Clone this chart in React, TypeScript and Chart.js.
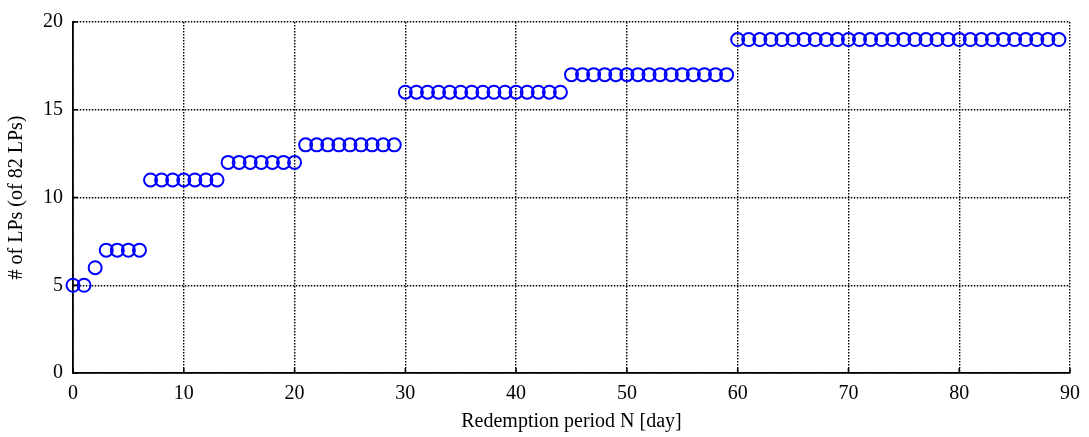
import { useEffect, useRef } from 'react';
import { Chart, registerables } from 'chart.js';

Chart.register(...registerables);

const periods = [
  0, 1, 2, 3, 4, 5, 6, 7, 8, 9,
  10, 11, 12, 13, 14, 15, 16, 17, 18, 19,
  20, 21, 22, 23, 24, 25, 26, 27, 28, 29,
  30, 31, 32, 33, 34, 35, 36, 37, 38, 39,
  40, 41, 42, 43, 44, 45, 46, 47, 48, 49,
  50, 51, 52, 53, 54, 55, 56, 57, 58, 59,
  60, 61, 62, 63, 64, 65, 66, 67, 68, 69,
  70, 71, 72, 73, 74, 75, 76, 77, 78, 79,
  80, 81, 82, 83, 84, 85, 86, 87, 88, 89,
];

const lpCounts = [
  5, 5, 6, 7, 7, 7, 7, 11, 11, 11,
  11, 11, 11, 11, 12, 12, 12, 12, 12, 12,
  12, 13, 13, 13, 13, 13, 13, 13, 13, 13,
  16, 16, 16, 16, 16, 16, 16, 16, 16, 16,
  16, 16, 16, 16, 16, 17, 17, 17, 17, 17,
  17, 17, 17, 17, 17, 17, 17, 17, 17, 17,
  19, 19, 19, 19, 19, 19, 19, 19, 19, 19,
  19, 19, 19, 19, 19, 19, 19, 19, 19, 19,
  19, 19, 19, 19, 19, 19, 19, 19, 19, 19,
];

const xTicks = [0, 10, 20, 30, 40, 50, 60, 70, 80, 90];
const yTicks = [0, 5, 10, 15, 20];

const xTitle = 'Redemption period N [day]';
const yTitle = '# of LPs (of 82 LPs)';

const FONT = '"Liberation Serif", "Times New Roman", serif';

const inwardTicks = {
  id: 'inwardTicks',
  afterDraw(chart: any) {
    const { ctx, chartArea, scales } = chart;
    const len = 5;
    ctx.save();
    ctx.strokeStyle = '#000';
    ctx.lineWidth = 1.5;
    ctx.setLineDash([]);
    ctx.beginPath();
    xTicks.forEach((v) => {
      const px = scales.x.getPixelForValue(v);
      ctx.moveTo(px, chartArea.bottom);
      ctx.lineTo(px, chartArea.bottom - len);
    });
    yTicks.forEach((v) => {
      const py = scales.y.getPixelForValue(v);
      ctx.moveTo(chartArea.left, py);
      ctx.lineTo(chartArea.left + len, py);
    });
    ctx.stroke();
    ctx.restore();
  },
};

export default function App() {
  const ref = useRef<HTMLCanvasElement>(null);

  useEffect(() => {
    if (!ref.current) return;
    const chart = new Chart(ref.current, {
      type: 'scatter',
      data: {
        datasets: [
          {
            data: periods.map((x, i) => ({ x, y: lpCounts[i] })),
            pointStyle: 'circle',
            pointRadius: 6.5,
            pointHoverRadius: 6.5,
            pointBorderWidth: 2,
            borderColor: '#0000ff',
            backgroundColor: 'rgba(0,0,0,0)',
            clip: false as any,
          },
        ],
      },
      options: {
        responsive: false,
        animation: false,
        events: [],
        layout: { padding: { top: 12, right: 16, left: 0, bottom: 0 } },
        plugins: { legend: { display: false }, tooltip: { enabled: false } },
        scales: {
          x: {
            type: 'linear',
            min: 0,
            max: 90,
            afterBuildTicks: (s: any) => {
              s.ticks = xTicks.map((v) => ({ value: v }));
            },
            afterFit: (s: any) => {
              s.height = 64;
            },
            grid: {
              color: '#000',
              lineWidth: 1.4,
              drawTicks: false,
            },
            border: { display: true, color: '#000', width: 1.8, dash: [1.5, 1.5] },
            ticks: {
              color: '#000',
              padding: 9,
              maxRotation: 0,
              autoSkip: false,
              font: { family: FONT, size: 20 },
            },
            title: {
              display: true,
              text: xTitle,
              color: '#000',
              padding: { top: 0, bottom: 3 },
              font: { family: FONT, size: 20 },
            },
          },
          y: {
            type: 'linear',
            min: 0,
            max: 20,
            afterBuildTicks: (s: any) => {
              s.ticks = yTicks.map((v) => ({ value: v }));
            },
            afterFit: (s: any) => {
              s.width = 73;
            },
            grid: {
              color: '#000',
              lineWidth: 1.4,
              drawTicks: false,
            },
            border: { display: true, color: '#000', width: 1.8, dash: [1.5, 1.5] },
            ticks: {
              color: '#000',
              padding: 10,
              autoSkip: false,
              font: { family: FONT, size: 20 },
            },
            title: {
              display: true,
              text: yTitle,
              color: '#000',
              padding: { top: 5, bottom: 0 },
              font: { family: FONT, size: 20 },
            },
          },
        },
      },
      plugins: [inwardTicks],
    });
    return () => chart.destroy();
  }, []);

  return (
    <div style={{ position: 'fixed', left: 0, top: 0, width: 1089, height: 437, background: '#fff' }}>
      <canvas ref={ref} width={1089} height={437} style={{ display: 'block' }} />
    </div>
  );
}
